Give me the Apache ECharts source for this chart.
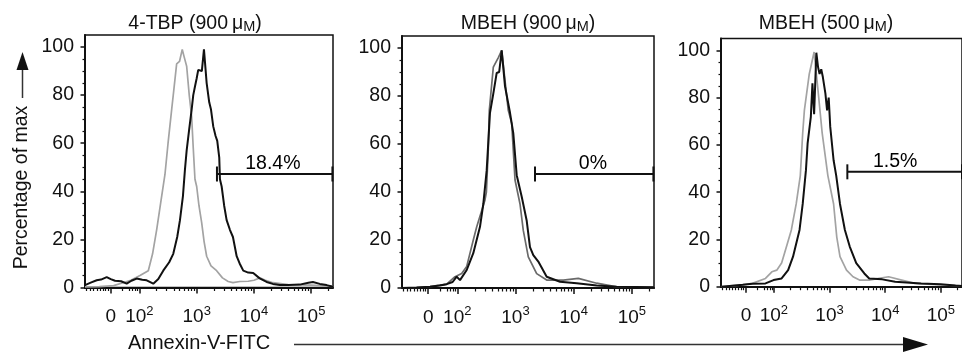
<!DOCTYPE html>
<html><head><meta charset="utf-8">
<script src="https://cdn.jsdelivr.net/npm/echarts@6/dist/echarts.min.js"></script>
<style>html,body{margin:0;padding:0;background:#fff}#c{width:962px;height:356px}</style>
</head><body><div id="c"></div>
<script>
// ---- Data (x in display decades of the biexponential axis, y in % of max) ----
const panelTitles = ['4-TBP', 'MBEH', 'MBEH'];
const panelConc = ['900', '900', '500'];

const xTickPos = [1.5, 2, 3, 4, 5];
const xTickBase = ['0', '10', '10', '10', '10'];
const xTickExp = ['', '2', '3', '4', '5'];
const xLinearMinor = [1.08, 1.14, 1.2, 1.26, 1.31, 1.36, 1.41, 1.45, 1.7, 1.82, 1.88, 1.93, 1.97];
const yTickVals = [0, 20, 40, 60, 80, 100];
const yMinorVals = [5, 10, 15, 25, 30, 35, 45, 50, 55, 65, 70, 75, 85, 90, 95];

const tbp900Control = [[1.05,0.3],[1.3,0.4],[1.55,0.8],[1.713,2],[1.85,3],[2.01,5],[2.155,7],[2.23,14],[2.301,24],[2.37,35],[2.446,47],[2.5,60],[2.563,74],[2.6,82],[2.65,93],[2.7,94],[2.748,99],[2.78,96],[2.825,92],[2.87,80],[2.912,71],[2.94,58],[2.97,45],[3.0,42],[3.04,34],[3.087,27],[3.13,19],[3.174,13],[3.25,9],[3.348,7],[3.45,4],[3.55,2.5],[3.633,2],[3.755,2.5],[3.9,2.6],[4.0,3],[4.104,4],[4.2,3],[4.331,2],[4.6,1.2],[5.0,1],[5.38,0.5]];
const tbp900Stained = [[1.05,1],[1.15,2],[1.254,3],[1.33,3.3],[1.429,4.3],[1.5,3.5],[1.574,2.8],[1.68,2.6],[1.778,1.6],[1.86,2.8],[1.952,3.7],[2.05,3.2],[2.127,3],[2.242,1.6],[2.33,3.5],[2.416,7],[2.52,10.5],[2.591,14],[2.66,21],[2.708,28],[2.76,38],[2.795,49],[2.825,57],[2.87,66],[2.912,74],[2.94,80],[2.97,83.6],[3.0,87],[3.027,90.5],[3.06,91],[3.09,90],[3.127,99],[3.174,85],[3.219,77],[3.25,74],[3.289,67],[3.33,63],[3.359,61],[3.394,54],[3.406,45],[3.436,42],[3.48,34],[3.523,28],[3.58,24],[3.633,21],[3.698,13],[3.75,10],[3.813,7],[3.9,6.2],[3.987,6],[4.1,3.8],[4.221,2.3],[4.33,1.5],[4.453,1],[4.6,1],[4.8,1.2],[4.95,2],[5.029,2.3],[5.15,1.5],[5.268,1],[5.38,0.3]];

const mbeh900Control = [[1.045,0],[1.3,0.2],[1.531,0.6],[1.818,1.6],[1.961,4.7],[2.076,6],[2.162,9],[2.275,20],[2.334,25.5],[2.476,36.7],[2.5,40],[2.533,58],[2.55,74],[2.619,92],[2.705,96],[2.763,99],[2.876,74],[2.935,68.6],[2.98,50],[2.992,45],[3.078,35],[3.134,24],[3.22,13],[3.364,6],[3.536,3.3],[3.822,3.3],[4.079,4],[4.395,2],[4.739,0.5],[5.38,0.3]];
const mbeh900Stained = [[1.045,0],[1.3,0.2],[1.531,0.5],[1.7,1],[1.818,1.6],[1.92,2.5],[1.99,4.7],[2.047,3.3],[2.162,7.5],[2.275,14.5],[2.39,25.5],[2.447,35],[2.505,49],[2.562,73],[2.619,81],[2.677,89.6],[2.72,90],[2.763,99],[2.82,84],[2.906,73],[2.962,64.5],[3.021,47],[3.107,38],[3.193,28],[3.249,17],[3.306,13.7],[3.392,11],[3.536,4.7],[3.765,2.6],[4.052,2],[4.395,1],[4.739,0.5],[5.38,0.3]];

const mbeh500Control = [[1.062,0],[1.44,0.8],[1.615,1.4],[1.849,3.5],[1.964,6.3],[2.052,7],[2.139,10],[2.227,17],[2.314,24],[2.401,35],[2.475,47],[2.518,65],[2.548,74.6],[2.636,90],[2.723,99.3],[2.769,88.7],[2.81,79],[2.868,65],[2.97,47],[3.073,35],[3.13,21],[3.188,12.7],[3.305,7],[3.422,4.2],[3.538,2.8],[3.713,2.8],[3.887,3.5],[4.062,4.2],[4.297,2.8],[4.529,1.4],[4.996,0.8],[5.263,0.5],[5.38,0.3]];
const mbeh500Stained = [[1.062,0],[1.44,0.8],[1.615,1.2],[1.849,1.4],[1.994,2.8],[2.139,3.5],[2.256,7],[2.344,12.7],[2.461,24],[2.518,35],[2.576,49.3],[2.606,60.6],[2.664,71.8],[2.693,86],[2.723,73],[2.763,99],[2.793,93],[2.821,90],[2.851,92],[2.88,88.7],[2.926,81.7],[2.956,74.6],[2.985,80],[3.013,67.6],[3.073,53.5],[3.12,47],[3.188,35],[3.276,24],[3.363,17],[3.48,10],[3.625,5.6],[3.713,3.5],[3.947,3.1],[4.179,2.1],[4.646,1.4],[4.996,1],[5.263,0.5],[5.38,0.3]];

const gateLabels = ['18.4%', '0%', '1.5%'];
const gateStart = [3.354, 3.335, 3.32];
const gateEnd = [5.37, 5.37, 5.38];
const gateY = [47.2, 47.5, 48.6];
const gateLabelX = [4.33, 4.33, 4.18];

// ---- Chart ----
const controls = [tbp900Control, mbeh900Control, mbeh500Control];
const stained = [tbp900Stained, mbeh900Stained, mbeh500Stained];
const controlColors = ['#a3a3a3', '#6a6a6a', '#a3a3a3'];

const xMinorPos = xLinearMinor.slice();
for (let k = 2; k <= 5; k++) for (let m = 2; m <= 9; m++) {
  const p = k + Math.log10(m);
  if (p < 5.38) xMinorPos.push(p);
}

const FONT = '"Liberation Sans", Arial, Helvetica, sans-serif';
const INK = '#111';
const TXT = '#111';

const grids = [
  {left: 85, right: 629, top: 35, bottom: 68.5},
  {left: 402, right: 308, top: 36, bottom: 68},
  {left: 721, right: -7, top: 38.5, bottom: 69.3}
].map(g => Object.assign(g, {show: true, borderColor: INK, borderWidth: 1.5, backgroundColor: 'transparent'}));

const xAxes = [], yAxes = [], series = [];
for (let i = 0; i < 3; i++) {
  xAxes.push({
    type: 'value', gridIndex: i, min: 1.05, max: 5.38, position: 'bottom',
    axisLine: {show: true, onZero: false, lineStyle: {color: INK, width: 2}},
    axisTick: {show: true, customValues: xTickPos, length: 6, lineStyle: {color: INK, width: 1.5}},
    axisLabel: {
      show: true, customValues: xTickPos, margin: 17, fontFamily: FONT, color: TXT,
      formatter: v => {
        let idx = 0, best = 1e9;
        xTickPos.forEach((p, j) => { if (Math.abs(p - v) < best) { best = Math.abs(p - v); idx = j; } });
        return xTickExp[idx] ? '{b|' + xTickBase[idx] + '}{s|' + xTickExp[idx] + '}' : '{b|' + xTickBase[idx] + '}';
      },
      rich: {
        b: {fontSize: 19, fontFamily: FONT, color: TXT, lineHeight: 22, verticalAlign: 'bottom'},
        s: {fontSize: 13, fontFamily: FONT, color: TXT, lineHeight: 13, verticalAlign: 'top'}
      }
    },
    splitLine: {show: false}
  });
  xAxes.push({
    type: 'value', gridIndex: i, min: 1.05, max: 5.38, position: 'bottom', offset: 0,
    axisLine: {show: false},
    axisTick: {show: true, customValues: xMinorPos, length: 3.5, lineStyle: {color: INK, width: 1.2}},
    axisLabel: {show: false}, splitLine: {show: false}
  });
  yAxes.push({
    type: 'value', gridIndex: i, min: 0, max: 105, position: 'left',
    axisLine: {show: true, onZero: false, lineStyle: {color: INK, width: 2}},
    axisTick: {show: true, customValues: yTickVals, length: 4.5, lineStyle: {color: INK, width: 1.5}},
    axisLabel: {show: true, customValues: yTickVals, margin: 11, fontSize: 19.5, fontFamily: FONT, color: TXT},
    splitLine: {show: false}
  });
  yAxes.push({
    type: 'value', gridIndex: i, min: 0, max: 105, position: 'left', offset: 0,
    axisLine: {show: false},
    axisTick: {show: true, customValues: yMinorVals, length: 2.5, lineStyle: {color: INK, width: 1.2}},
    axisLabel: {show: false}, splitLine: {show: false}
  });

  series.push({
    type: 'line', xAxisIndex: 2 * i, yAxisIndex: 2 * i, data: controls[i], showSymbol: false,
    lineStyle: {color: controlColors[i], width: 1.7}, silent: true, z: 2
  });
  series.push({
    type: 'line', xAxisIndex: 2 * i, yAxisIndex: 2 * i, data: stained[i], showSymbol: false,
    lineStyle: {color: INK, width: 2}, silent: true, z: 3
  });
  series.push({
    type: 'line', xAxisIndex: 2 * i, yAxisIndex: 2 * i,
    data: [[gateStart[i], gateY[i]], [gateEnd[i], gateY[i]]],
    symbol: 'rect', symbolSize: [2, 15], showSymbol: true, showAllSymbol: true,
    itemStyle: {color: INK}, lineStyle: {color: INK, width: 2}, silent: true, z: 4
  });
  series.push({
    type: 'scatter', xAxisIndex: 2 * i, yAxisIndex: 2 * i,
    data: [[gateLabelX[i], gateY[i]]], symbolSize: 0, silent: true, z: 5,
    itemStyle: {color: INK, opacity: 1},
    label: {show: true, position: 'top', distance: 0, formatter: gateLabels[i], fontSize: 19.5, fontFamily: FONT, color: '#000', opacity: 1, textBorderWidth: 0}
  });
}

const titleX = [195, 528, 826];
const graphics = [];
for (let i = 0; i < 3; i++) {
  graphics.push({
    type: 'text', x: titleX[i], y: 23, silent: true,
    style: {
      text: '{a|' + panelTitles[i] + ' (' + panelConc[i] + '\u2009\u03bc}{m|M}{a|)}',
      align: 'center', verticalAlign: 'middle',
      rich: {
        a: {fontSize: 19.5, fontFamily: FONT, fill: TXT, lineHeight: 22, verticalAlign: 'bottom'},
        m: {fontSize: 14.5, fontFamily: FONT, fill: TXT, lineHeight: 19, verticalAlign: 'bottom'}
      }
    }
  });
}
// y axis name with arrow
graphics.push({
  type: 'text', x: 22, y: 187.5, rotation: Math.PI / 2, silent: true,
  style: {text: 'Percentage of max', align: 'center', verticalAlign: 'middle', font: '19.5px ' + FONT, fill: TXT}
});
graphics.push({type: 'line', silent: true, shape: {x1: 22.5, y1: 98, x2: 22.5, y2: 68}, style: {stroke: '#333', lineWidth: 1.5}});
graphics.push({type: 'polygon', silent: true, shape: {points: [[16.5, 70], [28.5, 70], [22.5, 52]]}, style: {fill: INK}});
// x axis name with arrow
graphics.push({
  type: 'text', x: 128, y: 343, silent: true,
  style: {text: 'Annexin-V-FITC', align: 'left', verticalAlign: 'middle', font: '20px ' + FONT, fill: TXT}
});
graphics.push({type: 'line', silent: true, shape: {x1: 294, y1: 344.5, x2: 905, y2: 344.5}, style: {stroke: '#333', lineWidth: 1.5}});
graphics.push({type: 'polygon', silent: true, shape: {points: [[903, 337], [903, 352], [928, 344.5]]}, style: {fill: INK}});

const chart = echarts.init(document.getElementById('c'), null, {renderer: 'canvas'});
chart.setOption({
  animation: false,
  backgroundColor: '#fff',
  textStyle: {fontFamily: FONT},
  grid: grids, xAxis: xAxes, yAxis: yAxes, series: series, graphic: graphics
});
</script></body></html>
